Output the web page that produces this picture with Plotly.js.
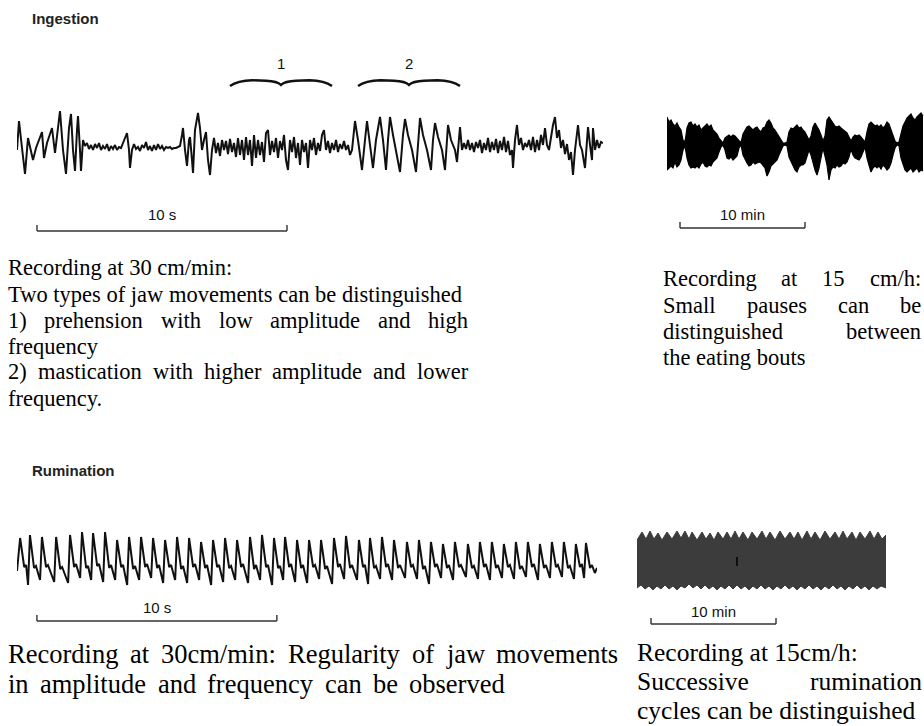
<!DOCTYPE html>
<html>
<head>
<meta charset="utf-8">
<script src="https://cdn.plot.ly/plotly-3.0.1.min.js"></script>
<style>html,body{margin:0;padding:0;background:#fff;}#chart{width:924px;height:726px;}</style>
</head>
<body>
<div id="chart"></div>
<script>
// ---------------- DATA ----------------
// Ingestion, recorded at 30 cm/min: time (s) and jaw-movement deflection (a.u.)
const ingestT = [0,0.08,0.20,0.32,0.44,0.56,0.64,0.76,0.88,1.00,1.08,1.20,1.32,1.40,1.52,1.64,1.72,1.84,1.96,2.08,2.16,2.24,2.32,2.40,2.44,2.52,2.56,2.64,
2.72,2.80,2.88,2.96,3.04,3.12,3.20,3.28,3.36,3.44,3.52,3.60,3.68,3.76,3.84,3.92,4.00,4.08,4.16,4.24,4.32,4.40,4.48,4.52,4.60,4.68,4.76,4.84,4.92,5.00,5.08,5.16,5.24,5.32,5.40,5.48,5.56,5.64,5.72,5.80,5.88,5.96,6.04,6.12,6.20,6.28,6.36,6.44,6.52,
6.60,6.64,6.72,6.80,6.88,6.92,7.00,7.04,7.12,7.24,7.32,7.40,7.48,7.56,7.64,7.72,7.80,
7.88,7.96,8.04,8.12,8.20,8.28,8.36,8.44,8.52,8.60,8.68,8.76,8.84,8.92,9.00,9.08,9.16,9.24,9.32,9.40,9.48,9.56,9.64,9.72,9.80,9.88,9.96,10.04,10.12,10.20,10.28,10.36,10.44,10.52,10.60,10.68,10.76,10.84,10.92,11.00,11.08,11.16,11.24,11.32,11.40,11.48,11.56,11.64,11.72,11.80,11.88,11.96,12.04,12.12,12.20,12.28,12.36,12.44,12.52,12.60,12.68,12.76,12.84,12.92,13.00,13.08,13.16,13.24,13.32,13.40,
13.48,13.52,13.64,13.76,13.80,13.92,14.00,14.12,14.24,14.36,14.52,14.64,14.76,14.84,14.92,15.04,15.16,15.24,15.32,15.44,15.52,15.64,15.80,15.96,16.04,16.12,16.24,16.40,16.56,16.64,16.72,16.84,17.00,17.12,17.20,17.24,17.36,17.52,17.60,17.68,17.72,17.80,
17.88,17.96,18.04,18.12,18.20,18.28,18.36,18.44,18.52,18.60,18.68,18.76,18.84,18.92,19.00,19.08,19.16,19.24,19.32,19.40,19.48,19.56,19.64,19.72,19.80,
19.84,19.92,20.00,20.08,20.16,20.24,20.32,20.40,20.48,20.56,20.64,20.72,20.80,20.88,20.96,21.04,21.12,21.20,21.28,21.36,21.44,21.52,21.60,21.68,21.76,21.84,21.92,22.00,22.08,22.16,22.24,22.32,22.44,22.52,22.60,22.72,22.80,22.84,22.92,23.00,23.04,23.12,23.20,23.28,23.36,23.44];
const ingestAmp = [0,29,2,-24,12,-2,-10,2,10,18,-8,7,16,22,-3,20,39,0,-24,22,36,0,-21,20,34,0,-21,10,
4,7,1,5,0,6,2,7,0,4,1,6,-1,4,1,5,0,3,2,7,12,17,0,-18,0,6,1,3,-1,5,2,8,0,4,-1,5,0,6,1,4,0,3,2,3,1,2,2,3,4,
15,22,0,-16,10,13,-10,-23,20,37,22,0,10,18,-10,-25,0,
12,-3,7,-6,10,0,9,-4,11,-2,7,-7,12,-5,10,-10,13,-5,10,-16,15,-8,10,-5,8,-12,17,20,-5,9,-2,12,-8,9,0,15,-10,-20,10,-2,13,-8,7,-15,10,-2,7,-18,10,0,12,-5,7,-1,15,20,0,9,-3,7,0,10,-2,6,1,9,0,5,-5,0,
20,29,10,-10,-20,10,29,5,-18,10,33,10,-20,10,33,15,0,-12,-22,15,31,15,0,-22,10,32,15,0,-20,10,27,13,0,-20,10,25,10,0,-12,10,23,0,
7,1,10,0,7,-2,8,2,10,-3,7,0,12,-2,8,0,11,-3,9,0,13,-2,9,-5,0,
-18,10,25,5,12,0,7,3,10,0,13,-2,10,0,15,5,22,5,0,15,25,33,12,20,2,10,-4,6,-10,-2,-25,0,25,5,0,-18,5,23,5,-10,22,0,10,2,8,7];
// Phases marked with braces (s)
const phaseLabels = ['1', '2'];
const phaseStart = [8.52, 13.64];
const phaseEnd = [12.60, 17.72];

// Ingestion, recorded at 15 cm/h: time (min), upper and lower envelope (a.u.)
const grazeT = [0,0.16,0.32,0.48,0.64,0.8,0.96,1.12,1.28,1.44,1.6,1.76,1.92,2.08,2.24,2.4,2.56,2.72,2.88,3.04,3.2,3.36,3.52,3.68,3.84,4,4.16,4.32,4.48,4.64,4.8,4.96,5.12,5.28,5.44,5.6,5.76,5.92,6.08,6.24,6.4,6.56,6.72,6.88,7.04,7.2,7.36,7.52,7.68,7.84,8,8.16,8.32,8.48,8.64,8.8,8.96,9.12,9.28,9.44,9.6,9.76,9.92,10.08,10.24,10.4,10.56,10.72,10.88,11.04,11.2,11.36,11.52,11.68,11.84,12,12.16,12.32,12.48,12.64,12.8,12.96,13.12,13.28,13.44,13.6,13.76,13.92,14.08,14.24,14.4,14.56,14.72,14.88,15.04,15.2,15.36,15.52,15.68,15.84,16,16.16,16.32,16.48,16.64,16.8,16.96,17.12,17.28,17.44,17.6,17.76,17.92,18.08,18.24,18.4,18.56,18.72,18.88,19.04,19.2,19.36,19.52,19.68,19.84,20,20.16,20.32,20.48];
const grazeHigh = [27,22,24,20,18,21,17,14,4,2,16,21,22,18,20,17,19,14,16,18,20,17,19,14,12,10,6,3,1,6,8,9,7,9,8,6,3,1,10,14,17,18,16,14,16,17,14,12,16,17,22,24,21,16,14,11,8,4,1,1,2,12,16,15,17,19,16,17,14,12,8,4,8,17,21,18,14,9,3,8,24,27,24,20,18,17,18,16,14,13,11,7,3,7,9,8,9,7,4,2,12,20,22,20,18,19,17,19,16,18,22,20,14,8,3,1,2,10,18,22,26,28,30,26,24,27,29,31,28];
const grazeLow = [-26,-24,-22,-24,-18,-23,-21,-16,-6,-2,-14,-21,-24,-23,-24,-22,-24,-20,-18,-22,-23,-21,-22,-18,-16,-14,-8,-3,-1,-6,-14,-15,-13,-16,-14,-12,-4,-1,-11,-16,-19,-22,-21,-18,-20,-19,-18,-19,-21,-24,-32,-28,-22,-20,-18,-16,-11,-6,-2,-1,-2,-13,-18,-22,-26,-28,-23,-21,-21,-19,-12,-6,-11,-20,-26,-31,-24,-14,-4,-12,-21,-36,-26,-23,-24,-21,-23,-22,-19,-20,-18,-13,-5,-11,-14,-15,-16,-13,-8,-3,-14,-21,-28,-24,-22,-24,-22,-25,-21,-23,-26,-24,-19,-11,-4,-1,-2,-14,-21,-26,-28,-26,-24,-28,-26,-24,-28,-26,-27];

// Rumination, recorded at 30 cm/min: time (s) and deflection (a.u.)
const ruminT = [0,
0.13,0.30,0.38,0.46, 0.54,0.71,0.79,0.96, 1.04,1.21,1.29,1.55, 1.63,1.80,1.88,2.13, 2.21,2.38,2.46,2.63,
2.71,2.88,2.96,3.09, 3.17,3.34,3.42,3.59, 3.67,3.84,3.92,4.09, 4.17,4.34,4.42,4.59, 4.67,4.84,4.92,5.09,
5.17,5.34,5.42,5.59, 5.67,5.84,5.92,6.09, 6.17,6.34,6.42,6.59, 6.67,6.84,6.92,7.09, 7.17,7.34,7.42,7.59,
7.67,7.84,7.92,8.09, 8.17,8.34,8.42,8.59, 8.67,8.84,8.92,9.09, 9.17,9.34,9.42,9.63, 9.71,9.88,9.96,10.13,
10.21,10.38,10.46,10.63, 10.71,10.88,10.96,11.09, 11.17,11.34,11.42,11.59, 11.67,11.84,11.92,12.09, 12.17,12.34,12.42,12.59,
12.67,12.84,12.92,13.13, 13.21,13.38,13.46,13.63, 13.71,13.88,13.96,14.17, 14.25,14.42,14.50,14.63, 14.71,14.88,14.96,15.13,
15.21,15.38,15.46,15.63, 15.71,15.88,15.96,16.17, 16.25,16.42,16.50,16.67, 16.75,16.92,17.00,17.17, 17.25,17.42,17.50,17.67,
17.75,17.92,18.00,18.17, 18.25,18.42,18.50,18.71, 18.79,18.96,19.04,19.21, 19.29,19.46,19.54,19.71, 19.79,19.96,20.04,20.21,
20.29,20.46,20.54,20.71, 20.79,20.96,21.04,21.21, 21.29,21.46,21.54,21.71, 21.79,21.96,22.04,22.21, 22.29,22.46,22.54,22.71,
22.79,22.96,23.04,23.21, 23.29,23.46,23.54,23.63, 23.71,23.88,23.96,24.08,24.17];
const ruminAmp = [-6,
27,-2,0,-20, 30,-3,-1,-15, 28,-2,0,-17, 28,-4,-2,-18, 30,-2,1,-13,
33,-3,-1,-15, 32,-1,1,-17, 33,-3,0,-15, 25,-2,0,-20, 28,-4,-1,-15,
28,-2,1,-13, 27,-3,0,-18, 25,-2,0,-15, 28,-4,-1,-18, 27,-2,1,-15,
23,-3,0,-20, 25,-2,0,-17, 27,-3,-1,-15, 25,-2,1,-18, 28,-4,0,-15,
30,-2,0,-20, 27,-3,-1,-15, 28,-2,1,-17, 25,-3,0,-18, 25,-2,0,-14,
25,-4,-1,-19, 27,-2,1,-14, 29,-3,0,-15, 25,-2,0,-19, 27,-3,-1,-14,
28,-2,1,-15, 25,-3,0,-13, 23,-2,0,-14, 25,-4,-1,-19, 23,-2,1,-13,
21,-3,0,-15, 23,-2,0,-12, 21,-3,-1,-14, 23,-2,1,-15, 23,-3,0,-13,
21,-2,0,-14, 23,-4,-1,-12, 23,-2,1,-15, 21,-3,0,-13, 23,-2,0,-12,
23,-3,-1,-14, 21,-2,1,-13, 22,-3,0,-8,-3];

// Rumination, recorded at 15 cm/h: time (min), upper edge and lower edge (a.u.)
const rumSlowTopT = [0,0.40,0.72,1.04,1.36,1.68,2.00,2.40,2.80,3.20,3.52,3.84,4.16,4.40,4.80,5.20,5.52,5.84,6.16,6.48,6.88,7.20,7.52,7.84,8.16,8.48,8.88,9.20,9.60,10.00,10.32,10.64,11.04,11.44,11.84,12.24,12.56,12.88,13.20,13.60,13.92,14.24,14.64,15.04,15.44,15.84,16.16,16.48,16.80,17.20,17.52,17.84,18.24,18.64,18.96,19.28,19.60,19.92];
const rumSlowTopAmp = [20,28,21,29,21,27,20,28,21,29,22,29,21,28,20,28,21,27,20,28,21,28,21,29,21,28,20,28,21,29,21,28,20,29,21,28,21,28,20,29,21,28,20,29,21,28,21,29,21,28,20,28,21,29,21,28,21,25];
const rumSlowLowT = [0,0.32,0.64,0.96,1.28,1.60,1.92,2.24,2.56,2.88,3.20,3.52,3.84,4.16,4.48,4.80,5.12,5.44,5.76,6.08,6.40,6.72,7.04,7.36,7.68,8.00,8.32,8.64,8.96,9.28,9.60,9.92,10.24,10.56,10.88,11.20,11.52,11.84,12.16,12.48,12.80,13.12,13.44,13.76,14.08,14.40,14.72,15.04,15.36,15.68,16.00,16.32,16.64,16.96,17.28,17.60,17.92,18.24,18.56,18.88,19.20,19.52,19.92];
const rumSlowLowAmp = [-28,-25,-29,-26,-30,-26,-29,-25,-29,-26,-30,-26,-28,-24,-28,-25,-29,-25,-29,-26,-30,-26,-29,-25,-29,-25,-29,-26,-30,-26,-29,-25,-29,-26,-30,-26,-29,-25,-29,-26,-30,-26,-29,-25,-29,-26,-30,-26,-29,-25,-29,-26,-30,-26,-29,-25,-29,-26,-30,-26,-29,-26,-28];
const rumSlowMarkT = 8.0;

// Scale bars
const scaleBarSec = 10;
const scaleBarMin = 10;

// Texts
const titleIngestion = 'Ingestion';
const titleRumination = 'Rumination';
const textIngFast = ['Recording at 30 cm/min:', 'Two types of jaw movements can be distinguished', '1) prehension with low amplitude and high', 'frequency', '2) mastication with higher amplitude and lower', 'frequency.'];
const textIngSlow = ['Recording at 15 cm/h:', 'Small pauses can be', 'distinguished between', 'the eating bouts'];
const textRumFast = ['Recording at 30cm/min: Regularity of jaw movements', 'in amplitude and frequency can be observed'];
const textRumSlow = ['Recording at 15cm/h:', 'Successive rumination', 'cycles can be distinguished'];

// ---------------- LAYOUT HELPERS ----------------
const W = 924, H = 726;
const px = x => x / W;
const py = y => 1 - y / H;
const serif = '"Liberation Serif", "Times New Roman", Times, serif';
const sans = '"Liberation Sans", Arial, Helvetica, sans-serif';

const canvas = document.createElement('canvas');
const ctx = canvas.getContext('2d');
function measure(t, size) { ctx.font = size + 'px "Liberation Serif"'; return ctx.measureText(t).width; }

const annotations = [];
function note(x, y, text, size, opts) {
  annotations.push(Object.assign({xref: 'paper', yref: 'paper', x: x, y: y, text: text, showarrow: false,
    xanchor: 'left', yanchor: 'middle', borderpad: 0, borderwidth: 0,
    font: {family: serif, size: size, color: '#000'}}, opts || {}));
}
function textLine(line, x0, yc, size, justifyTo) {
  if (!justifyTo) { note(px(x0), py(yc), line, size); return; }
  const words = line.split(' ');
  const ws = words.map(w => measure(w, size));
  const total = ws.reduce((a, b) => a + b, 0);
  const gap = (justifyTo - x0 - total) / (words.length - 1);
  let x = x0;
  words.forEach((w, i) => { note(px(x), py(yc), w, size); x += ws[i] + gap; });
}

// Paragraphs
const lineA = [268, 294, 320, 346, 372, 398];
const justA = [0, 0, 468, 0, 468, 0];
textIngFast.forEach((l, i) => textLine(l, 8, lineA[i], 22.5, justA[i]));
const lineB = [279, 305, 331, 357];
const justB = [921, 921, 921, 0];
textIngSlow.forEach((l, i) => textLine(l, 663, lineB[i], 22.5, justB[i]));
const lineC = [654, 684];
const justC = [618, 505];
textRumFast.forEach((l, i) => textLine(l, 8, lineC[i], 26.5, justC[i]));
const lineD = [652, 681, 710];
const justD = [0, 922, 0];
textRumSlow.forEach((l, i) => textLine(l, 637, lineD[i], 25.5, justD[i]));

// Section titles
note(px(32), py(19), '<b>' + titleIngestion + '</b>', 15, {font: {family: sans, size: 15, color: '#222'}});
note(px(32), py(470), '<b>' + titleRumination + '</b>', 15, {font: {family: sans, size: 15, color: '#222'}});

// Phase braces + labels (in the ingestion axis)
const shapes = [];
phaseLabels.forEach((lab, i) => {
  const s = phaseStart[i], e = phaseEnd[i], m = (s + e) / 2;
  annotations.push({xref: 'x', yref: 'y', x: m, y: 87, text: lab, showarrow: false, xanchor: 'center', yanchor: 'middle',
    font: {family: sans, size: 15, color: '#111'}});
  const path = `M ${s} 64 Q ${s + 0.3} 69.5 ${s + 0.9} 69.8 L ${m - 0.6} 69.2 Q ${m - 0.15} 68.8 ${m} 65 Q ${m + 0.15} 68.8 ${m + 0.6} 69.2 L ${e - 0.9} 69.8 Q ${e - 0.3} 69.5 ${e} 64`;
  shapes.push({type: 'path', xref: 'x', yref: 'y', path: path, line: {color: '#111', width: 2.4}});
});

// Scale bars
function scaleBar(xref, x0, len, yBar, label, labelY) {
  const c = '#333';
  shapes.push({type: 'line', xref: xref, yref: 'paper', x0: x0, x1: x0 + len, y0: py(yBar), y1: py(yBar), line: {color: c, width: 1.4}});
  shapes.push({type: 'line', xref: xref, yref: 'paper', x0: x0, x1: x0, y0: py(yBar), y1: py(yBar - 6), line: {color: c, width: 1.4}});
  shapes.push({type: 'line', xref: xref, yref: 'paper', x0: x0 + len, x1: x0 + len, y0: py(yBar), y1: py(yBar - 6), line: {color: c, width: 1.4}});
  annotations.push({xref: xref, yref: 'paper', x: x0 + len / 2, y: py(labelY), text: label, showarrow: false,
    xanchor: 'center', yanchor: 'middle', font: {family: sans, size: 15, color: '#111'}});
}
scaleBar('x', 0.80, scaleBarSec, 231, '10 s', 215);
scaleBar('x2', 1.04, scaleBarMin, 228, '10 min', 215);
scaleBar('x3', 0.83, scaleBarSec, 621, '10 s', 607);
scaleBar('x4', 1.12, scaleBarMin, 624, '10 min', 611);

// Event mark in slow rumination
shapes.push({type: 'line', xref: 'x4', yref: 'y4', x0: rumSlowMarkT, x1: rumSlowMarkT, y0: -6, y1: 3, line: {color: '#000', width: 1.5}});

// ---------------- TRACES ----------------
const traces = [
  {x: ingestT, y: ingestAmp, xaxis: 'x', yaxis: 'y', mode: 'lines', line: {color: '#111', width: 2}},
  {x: grazeT, y: grazeLow, xaxis: 'x2', yaxis: 'y2', mode: 'lines', line: {color: '#000', width: 1.2}},
  {x: grazeT, y: grazeHigh, xaxis: 'x2', yaxis: 'y2', mode: 'lines', line: {color: '#000', width: 1.2}, fill: 'tonexty', fillcolor: '#000'},
  {x: ruminT, y: ruminAmp, xaxis: 'x3', yaxis: 'y3', mode: 'lines', line: {color: '#111', width: 2}},
  {x: rumSlowLowT, y: rumSlowLowAmp, xaxis: 'x4', yaxis: 'y4', mode: 'lines', line: {color: '#3c3c3c', width: 1}},
  {x: rumSlowTopT, y: rumSlowTopAmp, xaxis: 'x4', yaxis: 'y4', mode: 'lines', line: {color: '#3c3c3c', width: 1}, fill: 'tonexty', fillcolor: '#3c3c3c'}
];

const hidden = {visible: false, autorange: false, fixedrange: true};
const layout = {
  width: W, height: H, margin: {l: 0, r: 0, t: 0, b: 0, pad: 0},
  paper_bgcolor: '#fff', plot_bgcolor: 'rgba(0,0,0,0)', showlegend: false, hovermode: false,
  xaxis: Object.assign({domain: [px(17), px(603)], range: [0, 23.44], anchor: 'y'}, hidden),
  yaxis: Object.assign({domain: [py(190), py(40)], range: [-40, 110], anchor: 'x'}, hidden),
  xaxis2: Object.assign({domain: [px(667), px(924)], range: [0, 20.56], anchor: 'y2'}, hidden),
  yaxis2: Object.assign({domain: [py(190), py(100)], range: [-46, 44], anchor: 'x2'}, hidden),
  xaxis3: Object.assign({domain: [px(17), px(597)], range: [0, 24.17], anchor: 'y3'}, hidden),
  yaxis3: Object.assign({domain: [py(600), py(520)], range: [-35, 45], anchor: 'x3'}, hidden),
  xaxis4: Object.assign({domain: [px(637), px(887)], range: [0, 20.0], anchor: 'y4'}, hidden),
  yaxis4: Object.assign({domain: [py(600), py(520)], range: [-40, 40], anchor: 'x4'}, hidden),
  annotations: annotations, shapes: shapes
};
Plotly.newPlot('chart', traces, layout, {staticPlot: true, displayModeBar: false});
</script>
</body>
</html>
